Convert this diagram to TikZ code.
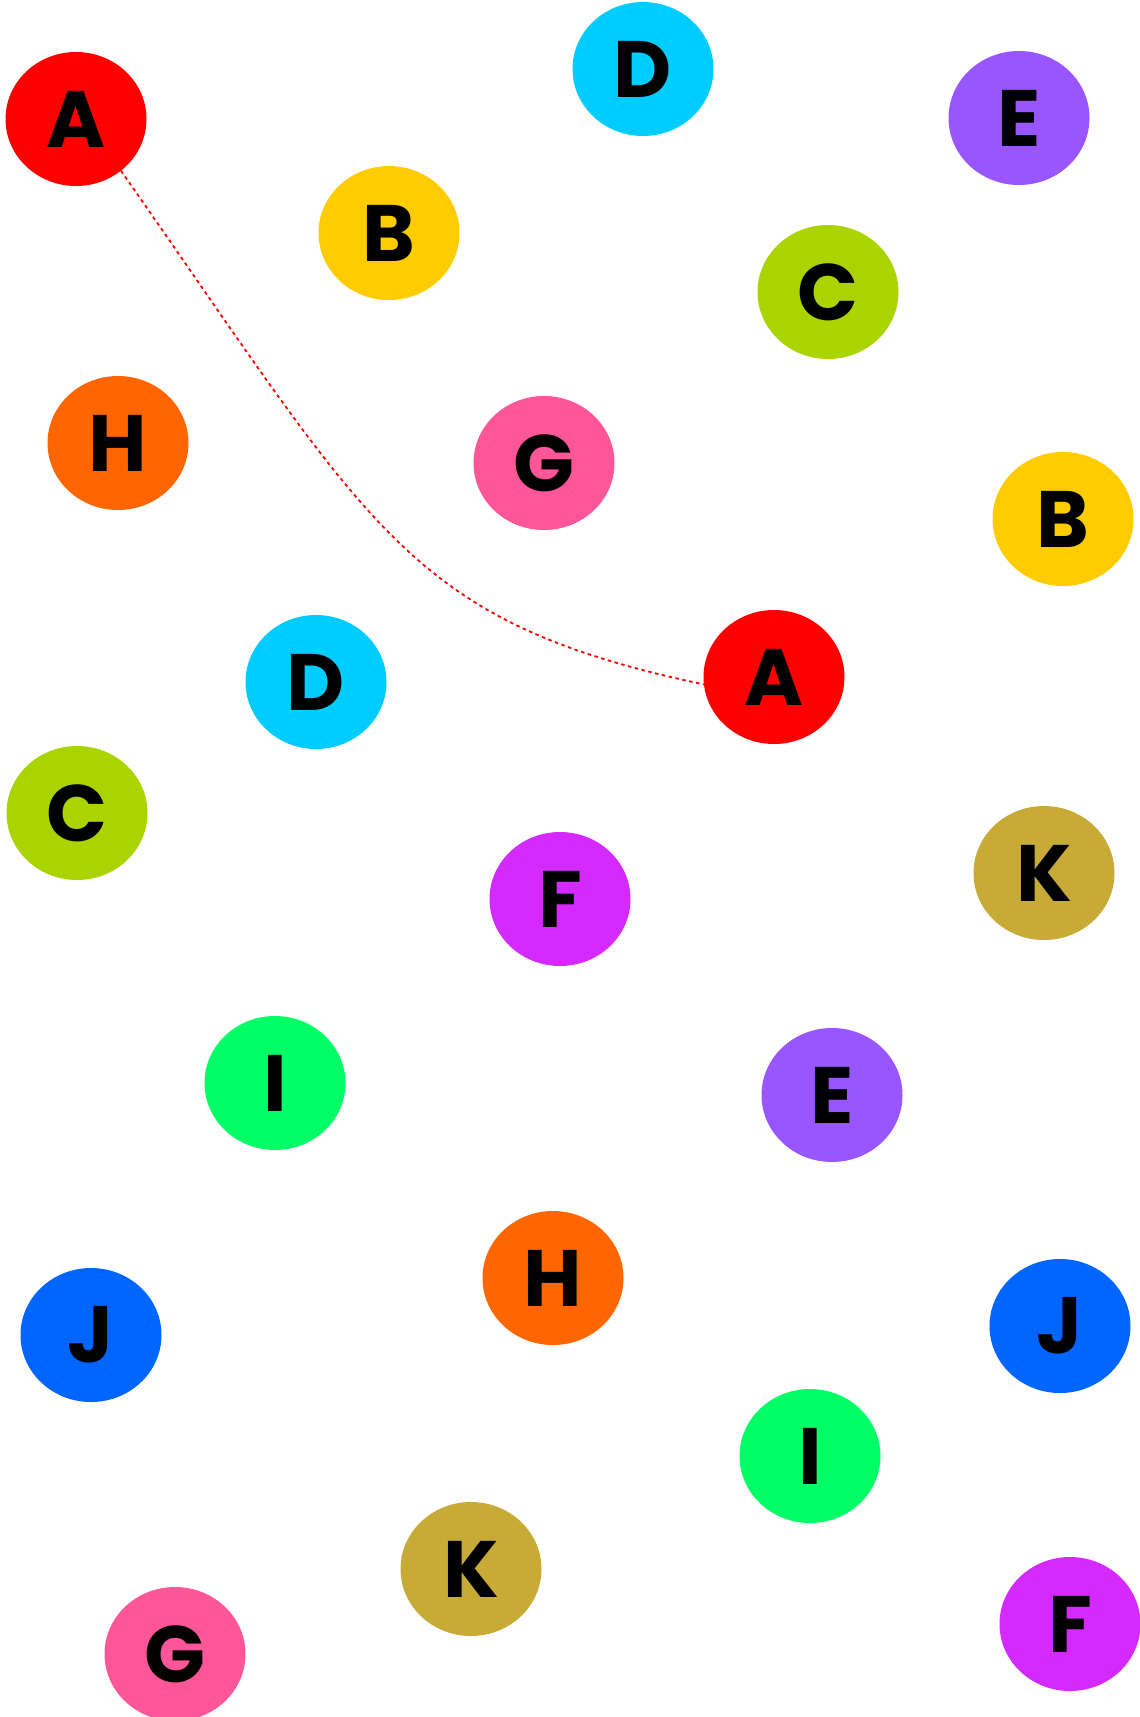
\documentclass[tikz,border=0pt]{standalone}
\usepackage{fontspec}
\usepackage{xcolor}
\usepackage{tikz}
\usetikzlibrary{shapes.geometric}
\newfontfamily\letra{Poppins}
\definecolor{rojo}{HTML}{FF0000}
\definecolor{cian}{HTML}{00CCFF}
\definecolor{lila}{HTML}{9955FF}
\definecolor{amarillo}{HTML}{FFCC00}
\definecolor{lima}{HTML}{AAD400}
\definecolor{naranja}{HTML}{FF6600}
\definecolor{rosa}{HTML}{FF5599}
\definecolor{ocre}{HTML}{C8AB37}
\definecolor{fucsia}{HTML}{D42AFF}
\definecolor{verde}{HTML}{00FF66}
\definecolor{azul}{HTML}{0066FF}

\begin{document}
\begin{tikzpicture}[x=1pt, y=-1pt,
  bola/.style={ellipse, inner sep=0pt, minimum width=141pt, minimum height=134pt,
    font=\letra\bfseries\fontsize{80}{80}\selectfont},
  enlace/.style={rojo, line width=1.8pt, dash pattern=on 3.5pt off 3.5pt}]
  \useasboundingbox (0,0) rectangle (1140,1717);
  \node[bola, fill=rojo] (a1) at (76,119) {A};
  \node[bola, fill=cian] (d1) at (643,69) {D};
  \node[bola, fill=lila] (e1) at (1019,118) {E};
  \node[bola, fill=amarillo] (b1) at (389,233) {B};
  \node[bola, fill=lima] (c1) at (828,292) {C};
  \node[bola, fill=naranja] (h1) at (118,443) {H};
  \node[bola, fill=rosa] (g1) at (544,463) {G};
  \node[bola, fill=amarillo] (b2) at (1063,519) {B};
  \node[bola, fill=cian] (d2) at (316,682) {D};
  \node[bola, fill=rojo] (a2) at (774,677) {A};
  \node[bola, fill=lima] (c2) at (77,813) {C};
  \node[bola, fill=fucsia] (f1) at (560,899) {F};
  \node[bola, fill=ocre] (k1) at (1044,873) {K};
  \node[bola, fill=verde] (i1) at (275,1083) {I};
  \node[bola, fill=lila] (e2) at (832,1095) {E};
  \node[bola, fill=naranja] (h2) at (553,1278) {H};
  \node[bola, fill=azul] (j1) at (91,1335) {J};
  \node[bola, fill=azul] (j2) at (1060,1326) {J};
  \node[bola, fill=verde] (i2) at (810,1456) {I};
  \node[bola, fill=ocre] (k2) at (471,1569) {K};
  \node[bola, fill=rosa] (g2) at (175,1654) {G};
  \node[bola, fill=fucsia] (f2) at (1070,1624) {F};
  % enlace entre las dos A
  \draw[enlace] (a1.-49) to[out=-55, in=168, out looseness=1.45, in looseness=1.0] (a2.186);
\end{tikzpicture}
\end{document}
